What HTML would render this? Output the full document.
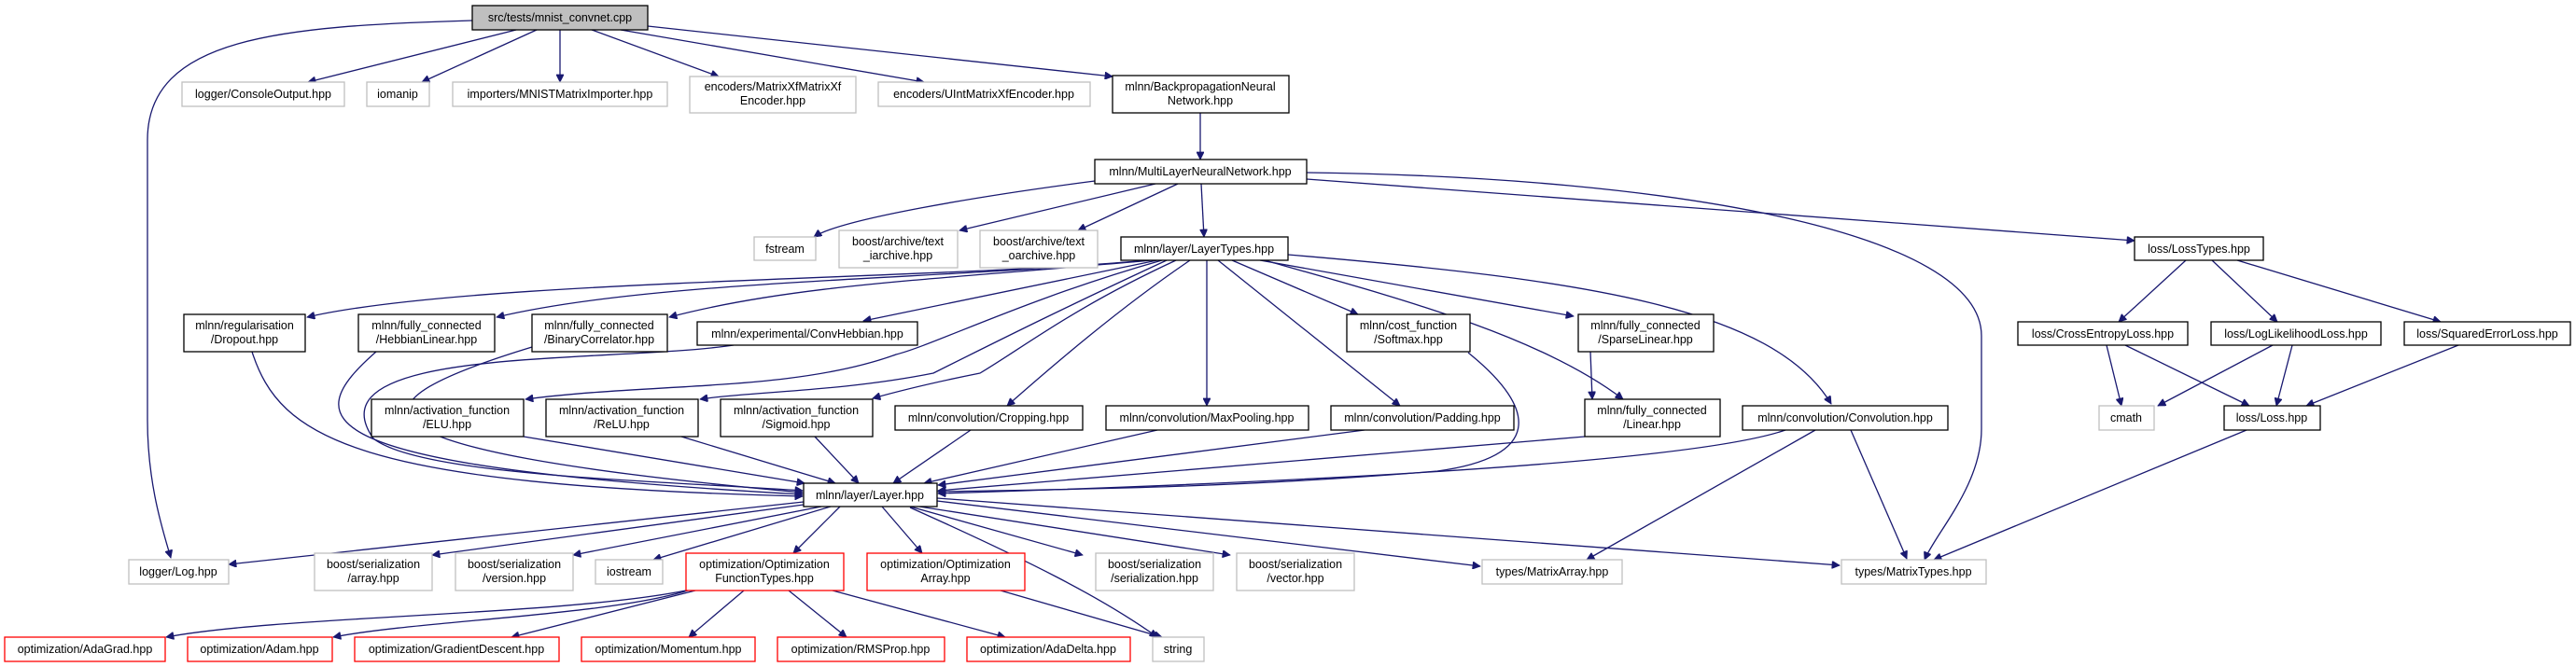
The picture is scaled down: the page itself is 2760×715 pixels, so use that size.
<!DOCTYPE html>
<html><head><meta charset="utf-8"><style>
html,body{margin:0;padding:0;background:#fff}
svg{display:block}
text{font-family:"Liberation Sans",sans-serif;font-size:12.5px;fill:#000}
.e{fill:none;stroke:#191970;stroke-width:1.3}
</style></head><body>
<svg width="2760" height="715" viewBox="0 0 2760 715" xmlns="http://www.w3.org/2000/svg">
<defs><marker id="a" viewBox="0 0 10 10" refX="10" refY="5" markerWidth="10" markerHeight="8" markerUnits="userSpaceOnUse" orient="auto"><path d="M0,0 L10,5 L0,10 z" fill="#191970" stroke="#191970"/></marker></defs>
<g class="e" marker-end="url(#a)">
<path d="M506,22 C300,28 158,40 158,150 L158,450 C158,520 175,570 183,598"/>
<path d="M553,32 L330,88"/>
<path d="M575,32 L452,88"/>
<path d="M600,32 L600,88"/>
<path d="M634,32 L770,82"/>
<path d="M665,32 L990,88"/>
<path d="M694,28 L1192,82"/>
<path d="M1286,121 L1286,171"/>
<path d="M1173,194 C1050,210 900,235 872,254"/>
<path d="M1238,197 L1028,247"/>
<path d="M1262,197 L1155,247"/>
<path d="M1287,197 L1290,254"/>
<path d="M1400,192 L2287,258"/>
<path d="M1400,185 C1800,190 2123,250 2123,360 L2123,460 C2123,520 2075,570 2062,600"/>
<path d="M1230,279 C1000,300 500,300 329,340"/>
<path d="M1232,279 C1000,300 700,300 532,340"/>
<path d="M1234,279 C1000,300 850,305 717,340"/>
<path d="M1240,279 L925,344"/>
<path d="M1245,279 C1100,320 1000,370 960,380 C850,420 700,410 563,428"/>
<path d="M1250,279 C1140,330 1080,360 1000,400 C900,420 800,420 750,428"/>
<path d="M1260,279 C1150,330 1100,370 1050,400 C1000,410 960,420 935,427"/>
<path d="M1275,279 C1200,330 1130,390 1079,435"/>
<path d="M1293,279 L1293,435"/>
<path d="M1305,279 L1500,435"/>
<path d="M1320,279 L1455,337"/>
<path d="M1350,279 L1686,339"/>
<path d="M1355,279 C1500,320 1650,360 1739,428"/>
<path d="M1380,273 C1700,300 1900,330 1962,433"/>
<path d="M270,377 C300,470 380,520 860,532"/>
<path d="M403,377 C320,450 320,500 860,530"/>
<path d="M570,372 C380,430 330,480 860,528"/>
<path d="M786,370 C650,390 330,370 400,470 C450,510 700,515 860,526"/>
<path d="M561,468 L862,518"/>
<path d="M730,468 L895,518"/>
<path d="M873,468 L920,518"/>
<path d="M1040,461 L957,518"/>
<path d="M1240,461 L990,518"/>
<path d="M1462,461 L1005,520"/>
<path d="M1573,378 C1650,440 1650,490 1540,505 C1300,525 1100,525 1005,527"/>
<path d="M1698,468 L1005,526"/>
<path d="M1913,461 C1800,500 1300,520 1005,529"/>
<path d="M861,538 L245,605"/>
<path d="M861,541 L463,595"/>
<path d="M880,543 L614,595"/>
<path d="M890,543 L700,600"/>
<path d="M900,543 L850,593"/>
<path d="M945,543 L988,593"/>
<path d="M975,543 L1160,595"/>
<path d="M985,543 L1318,595"/>
<path d="M1004,537 L1586,607"/>
<path d="M1004,534 L1971,606"/>
<path d="M975,544 C1100,600 1180,640 1240,683"/>
<path d="M1945,461 L1700,600"/>
<path d="M1983,461 L2043,599"/>
<path d="M2342,279 L2270,345"/>
<path d="M2370,279 L2440,345"/>
<path d="M2397,279 L2615,345"/>
<path d="M2257,370 L2273,435"/>
<path d="M2277,370 L2410,435"/>
<path d="M2435,370 L2312,435"/>
<path d="M2456,370 L2439,435"/>
<path d="M2634,370 L2471,435"/>
<path d="M2407,461 L2072,600"/>
<path d="M1704,377 L1706,428"/>
<path d="M735,633 C600,660 300,660 178,683"/>
<path d="M737,633 C650,660 450,665 357,683"/>
<path d="M745,633 L548,683"/>
<path d="M797,633 L738,683"/>
<path d="M845,633 L907,683"/>
<path d="M892,633 L1077,683"/>
<path d="M1072,633 L1245,683"/>
</g>
<g stroke-width="1.3" fill="#fff">
<rect x="506" y="6" width="188" height="26" fill="#bfbfbf" stroke="#000"/>
<g stroke="#bfbfbf">
<rect x="195" y="88" width="174" height="26"/>
<rect x="393" y="88" width="67" height="26"/>
<rect x="485" y="88" width="230" height="26"/>
<rect x="739" y="82" width="178" height="39"/>
<rect x="941" y="88" width="227" height="26"/>
<rect x="808" y="254" width="66" height="25"/>
<rect x="899" y="247" width="127" height="40"/>
<rect x="1050" y="247" width="126" height="40"/>
<rect x="2249" y="435" width="59" height="26"/>
<rect x="1973" y="600" width="155" height="26"/>
<rect x="138" y="600" width="107" height="26"/>
<rect x="337" y="593" width="126" height="40"/>
<rect x="488" y="593" width="126" height="40"/>
<rect x="638" y="600" width="72" height="26"/>
<rect x="1235" y="683" width="55" height="26"/>
<rect x="1174" y="593" width="126" height="40"/>
<rect x="1325" y="593" width="126" height="40"/>
<rect x="1588" y="600" width="150" height="26"/>
</g>
<g stroke="#000">
<rect x="1192" y="81" width="189" height="40"/>
<rect x="1173" y="171" width="227" height="26"/>
<rect x="1201" y="254" width="179" height="25"/>
<rect x="2287" y="254" width="138" height="25"/>
<rect x="2162" y="345" width="182" height="25"/>
<rect x="2369" y="345" width="182" height="25"/>
<rect x="2576" y="345" width="178" height="25"/>
<rect x="2383" y="435" width="103" height="26"/>
<rect x="1867" y="435" width="220" height="26"/>
<rect x="197" y="337" width="130" height="40"/>
<rect x="384" y="337" width="146" height="40"/>
<rect x="570" y="337" width="145" height="40"/>
<rect x="747" y="345" width="236" height="25"/>
<rect x="398" y="428" width="163" height="40"/>
<rect x="585" y="428" width="163" height="40"/>
<rect x="772" y="428" width="163" height="40"/>
<rect x="861" y="518" width="143" height="25"/>
<rect x="959" y="435" width="201" height="26"/>
<rect x="1185" y="435" width="217" height="26"/>
<rect x="1426" y="435" width="196" height="26"/>
<rect x="1443" y="337" width="132" height="40"/>
<rect x="1691" y="337" width="145" height="40"/>
<rect x="1698" y="428" width="145" height="40"/>
</g>
<g stroke="#f00">
<rect x="735" y="593" width="169" height="40"/>
<rect x="929" y="593" width="169" height="40"/>
<rect x="5" y="683" width="172" height="26"/>
<rect x="201" y="683" width="155" height="26"/>
<rect x="380" y="683" width="219" height="26"/>
<rect x="623" y="683" width="186" height="26"/>
<rect x="833" y="683" width="179" height="26"/>
<rect x="1036" y="683" width="175" height="26"/>
</g>
</g>
<g text-anchor="middle">
<text x="600" y="23">src/tests/mnist_convnet.cpp</text>
<text x="282" y="105">logger/ConsoleOutput.hpp</text>
<text x="426" y="105">iomanip</text>
<text x="600" y="105">importers/MNISTMatrixImporter.hpp</text>
<text x="828" y="97">encoders/MatrixXfMatrixXf</text><text x="828" y="112">Encoder.hpp</text>
<text x="1054" y="105">encoders/UIntMatrixXfEncoder.hpp</text>
<text x="1286" y="97">mlnn/BackpropagationNeural</text><text x="1286" y="112">Network.hpp</text>
<text x="1286" y="188">mlnn/MultiLayerNeuralNetwork.hpp</text>
<text x="841" y="271">fstream</text>
<text x="962" y="263">boost/archive/text</text><text x="962" y="278">_iarchive.hpp</text>
<text x="1113" y="263">boost/archive/text</text><text x="1113" y="278">_oarchive.hpp</text>
<text x="1290" y="271">mlnn/layer/LayerTypes.hpp</text>
<text x="2356" y="271">loss/LossTypes.hpp</text>
<text x="2253" y="362">loss/CrossEntropyLoss.hpp</text>
<text x="2460" y="362">loss/LogLikelihoodLoss.hpp</text>
<text x="2665" y="362">loss/SquaredErrorLoss.hpp</text>
<text x="2278" y="452">cmath</text>
<text x="2434" y="452">loss/Loss.hpp</text>
<text x="1977" y="452">mlnn/convolution/Convolution.hpp</text>
<text x="2050" y="617">types/MatrixTypes.hpp</text>
<text x="262" y="353">mlnn/regularisation</text><text x="262" y="368">/Dropout.hpp</text>
<text x="457" y="353">mlnn/fully_connected</text><text x="457" y="368">/HebbianLinear.hpp</text>
<text x="642" y="353">mlnn/fully_connected</text><text x="642" y="368">/BinaryCorrelator.hpp</text>
<text x="865" y="362">mlnn/experimental/ConvHebbian.hpp</text>
<text x="479" y="444">mlnn/activation_function</text><text x="479" y="459">/ELU.hpp</text>
<text x="666" y="444">mlnn/activation_function</text><text x="666" y="459">/ReLU.hpp</text>
<text x="853" y="444">mlnn/activation_function</text><text x="853" y="459">/Sigmoid.hpp</text>
<text x="932" y="535">mlnn/layer/Layer.hpp</text>
<text x="1059" y="452">mlnn/convolution/Cropping.hpp</text>
<text x="1293" y="452">mlnn/convolution/MaxPooling.hpp</text>
<text x="1524" y="452">mlnn/convolution/Padding.hpp</text>
<text x="1509" y="353">mlnn/cost_function</text><text x="1509" y="368">/Softmax.hpp</text>
<text x="1763" y="353">mlnn/fully_connected</text><text x="1763" y="368">/SparseLinear.hpp</text>
<text x="1770" y="444">mlnn/fully_connected</text><text x="1770" y="459">/Linear.hpp</text>
<text x="191" y="617">logger/Log.hpp</text>
<text x="400" y="609">boost/serialization</text><text x="400" y="624">/array.hpp</text>
<text x="551" y="609">boost/serialization</text><text x="551" y="624">/version.hpp</text>
<text x="674" y="617">iostream</text>
<text x="819" y="609">optimization/Optimization</text><text x="819" y="624">FunctionTypes.hpp</text>
<text x="1013" y="609">optimization/Optimization</text><text x="1013" y="624">Array.hpp</text>
<text x="1237" y="609">boost/serialization</text><text x="1237" y="624">/serialization.hpp</text>
<text x="1388" y="609">boost/serialization</text><text x="1388" y="624">/vector.hpp</text>
<text x="1663" y="617">types/MatrixArray.hpp</text>
<text x="91" y="700">optimization/AdaGrad.hpp</text>
<text x="278" y="700">optimization/Adam.hpp</text>
<text x="489" y="700">optimization/GradientDescent.hpp</text>
<text x="716" y="700">optimization/Momentum.hpp</text>
<text x="922" y="700">optimization/RMSProp.hpp</text>
<text x="1123" y="700">optimization/AdaDelta.hpp</text>
<text x="1262" y="700">string</text>
</g>
</svg>
</body></html>
